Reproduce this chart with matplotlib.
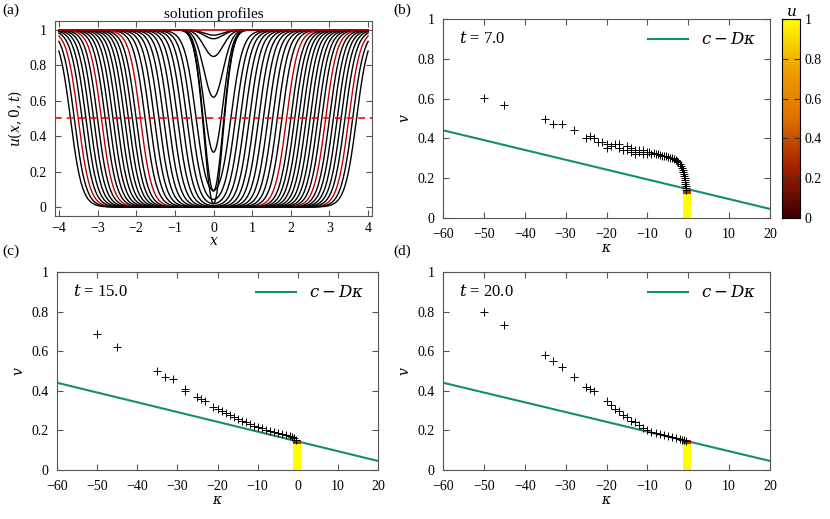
import numpy as np
import matplotlib
matplotlib.use("Agg")
import matplotlib.pyplot as plt
from matplotlib.colors import LinearSegmentedColormap

plt.rcParams['font.family'] = ['Liberation Serif', 'DejaVu Serif']
plt.rcParams['mathtext.fontset'] = 'dejavuserif'
plt.rcParams['font.size'] = 10

# --- panel (a): profile minima (shallow wells) and front half-positions
well_mins = [0.97, 0.95, 0.85, 0.62, 0.31, 0.09, 0.02]
fronts = [0.45, 0.57, 0.69, 0.81, 0.93, 1.05, 1.17, 1.29, 1.41, 1.53, 1.65, 1.77, 1.89,
          2.0, 2.1, 2.2, 2.3, 2.4, 2.5, 2.6, 2.7, 2.8, 2.9, 3.0, 3.1, 3.2, 3.3,
          3.4, 3.5, 3.6, 3.7]
red_fronts = [1.89, 2.9, 3.5]

# --- panels (b)-(d)
line_c, line_D = 0.1444, 0.00494
k7 = [-50, -45, -35, -33, -31, -28, -25, -24, -23, -22, -21, -20, -20, -19, -18, -17, -17, -16, -15, -15,
      -14, -14, -13, -13, -12, -12, -11, -11, -10, -10, -9.5, -9, -8.5, -8, -7.5, -7, -6.5, -6, -5.5, -5,
      -4.5, -4, -3.5, -3, -2.7, -2.4, -2.1, -1.8, -1.6, -1.4, -1.2, -1.1, -1.0, -0.9, -0.8, -0.75, -0.7, -0.65, -0.6, -0.55]
v7 = [0.605, 0.57, 0.50, 0.47, 0.47, 0.44, 0.40, 0.41, 0.40, 0.38, 0.38, 0.37, 0.35, 0.36, 0.37, 0.35, 0.37, 0.34, 0.36, 0.34,
      0.35, 0.33, 0.34, 0.32, 0.33, 0.34, 0.34, 0.32, 0.33, 0.32, 0.33, 0.32, 0.325, 0.32, 0.32, 0.315, 0.31, 0.31, 0.31, 0.305,
      0.30, 0.30, 0.295, 0.29, 0.285, 0.28, 0.27, 0.26, 0.25, 0.24, 0.23, 0.22, 0.21, 0.20, 0.19, 0.18, 0.17, 0.16, 0.15, 0.14]
k15 = [-50, -45, -35, -33, -31, -28, -28, -25, -24, -23, -21, -20, -19, -18, -17, -16, -15, -14, -13, -12,
       -11, -10, -9, -8, -7, -6, -5, -4, -3, -2, -1.5, -1, -0.5]
v15 = [0.685, 0.62, 0.50, 0.47, 0.46, 0.41, 0.40, 0.37, 0.36, 0.35, 0.32, 0.31, 0.30, 0.29, 0.28, 0.27, 0.26, 0.25, 0.24, 0.23,
       0.22, 0.215, 0.21, 0.20, 0.195, 0.19, 0.185, 0.18, 0.175, 0.17, 0.165, 0.16, 0.15]
k20 = [-50, -45, -35, -33, -31, -28, -25, -24, -23, -20, -19, -18, -17, -16, -15, -14, -13, -12, -11, -10,
       -9, -8, -7, -6, -5, -4, -3, -2, -1.5, -1, -0.5]
v20 = [0.80, 0.73, 0.58, 0.55, 0.52, 0.47, 0.42, 0.41, 0.40, 0.35, 0.33, 0.31, 0.30, 0.28, 0.27, 0.25, 0.24, 0.225, 0.21, 0.20,
       0.19, 0.185, 0.18, 0.175, 0.17, 0.165, 0.16, 0.155, 0.15, 0.15, 0.145]
bar_tops = [0.14, 0.15, 0.15]
times = ["7.0", "15.0", "20.0"]

cmap = LinearSegmentedColormap.from_list("hot2", ["#3a0000", "#a02000", "#e07000", "#f0a000", "#ffff00"])

fig = plt.figure(figsize=(8.3, 5.19), dpi=100)
W, H = 830, 519
def ax_at(x0, y0, x1, y1):
    return fig.add_axes([x0 / W, 1 - y1 / H, (x1 - x0) / W, (y1 - y0) / H])

def style(ax):
    for s in ax.spines.values():
        s.set_color('#555555')
    ax.tick_params(direction='in', top=True, right=True, length=4, color='#555555', labelsize=10)
    ax.tick_params(axis='x', pad=7)
    ax.tick_params(axis='y', pad=6)

# (a)
axa = ax_at(55, 21, 372, 216)
x = np.linspace(-4, 4, 801)
w = 0.3
for m in well_mins:
    depth = 1 - m
    axa.plot(x, 1 - depth * np.exp(-x**2 / 0.12), color='k', lw=1)
for f in fronts:
    u = 1 - 0.5 * (np.tanh((x + f) / w) - np.tanh((x - f) / w))
    u = np.clip(u, 0, 1)
    axa.plot(x, u, color='#c00000' if f in red_fronts else 'k', lw=1)
axa.plot([-4, 4], [1, 1], color='#c00000', lw=1.2)
axa.axhline(0.5, color='red', ls='--', lw=1.2, dashes=(4, 3))
axa.set_xlim(-4.1, 4.1); axa.set_ylim(-0.05, 1.05)
axa.set_xticks(range(-4, 5)); axa.set_yticks([0, 0.2, 0.4, 0.6, 0.8, 1])
axa.set_yticklabels(['0', '0.2', '0.4', '0.6', '0.8', '1'])
axa.set_xticklabels([str(i).replace('-', '−') for i in range(-4, 5)])
axa.set_xlabel('$x$', labelpad=0)
axa.set_ylabel('$u(x,0,t)$')
axa.set_title('solution profiles', pad=2, fontsize=11)
style(axa)
axa.tick_params(axis='x', pad=4)
fig.text(2 / W, 1 - 14 / H, '(a)', fontsize=11)

boxes = [(443, 19, 770, 218), (57, 272, 378, 470), (443, 272, 770, 470)]
labels = ['(b)', '(c)', '(d)']
labpos = [(393, 14), (2, 255), (393, 255)]
data = [(k7, v7), (k15, v15), (k20, v20)]
kl = np.array([-60, 20])
for i, (b, lab, (kk, vv)) in enumerate(zip(boxes, labels, data)):
    ax = ax_at(*b)
    ax.plot(kl, line_c - line_D * kl, color='#109070', lw=1.5, label=r'$c-D\kappa$')
    ax.scatter(kk, vv, marker='+', color='k', s=28, lw=0.7, zorder=3)
    ax.bar(-0.3, bar_tops[i], width=2.0, color='#ffff00', zorder=2)
    ax.bar(-0.3, 0.02, bottom=bar_tops[i] - 0.02, width=2.0, color='#b03000', zorder=2)
    ax.set_xlim(-60, 20); ax.set_ylim(0, 1)
    ax.set_xticks(range(-60, 21, 10))
    ax.set_xticklabels([str(v).replace('-', '−') for v in range(-60, 21, 10)])
    ax.set_yticks([0, 0.2, 0.4, 0.6, 0.8, 1])
    ax.set_yticklabels(['0', '0.2', '0.4', '0.6', '0.8', '1'])
    ax.set_xlabel(r'$\kappa$', labelpad=1)
    ax.set_ylabel(r'$v$')
    ax.text(0.05, 0.9, '$t$ = ' + times[i], transform=ax.transAxes, fontsize=12, va='center')
    ax.legend(loc='upper right', frameon=False, fontsize=12, handlelength=2.4, borderaxespad=0.4)
    style(ax)
    fig.text(labpos[i][0] / W, 1 - labpos[i][1] / H, lab, fontsize=11)

# colorbar
cax = ax_at(782, 19, 800, 218)
grad = np.linspace(0, 1, 256).reshape(-1, 1)
cax.imshow(grad, aspect='auto', cmap=cmap, origin='lower', extent=[0, 1, 0, 1])
cax.set_xticks([])
cax.yaxis.tick_right()
cax.set_yticks([0, 0.2, 0.4, 0.6, 0.8, 1])
cax.set_yticklabels(['0', '0.2', '0.4', '0.6', '0.8', '1'])
cax.tick_params(direction='in', length=4, left=True, color='#333333')
cax.set_title('$u$', fontsize=11, pad=2)

fig.savefig('out.png', dpi=100)
